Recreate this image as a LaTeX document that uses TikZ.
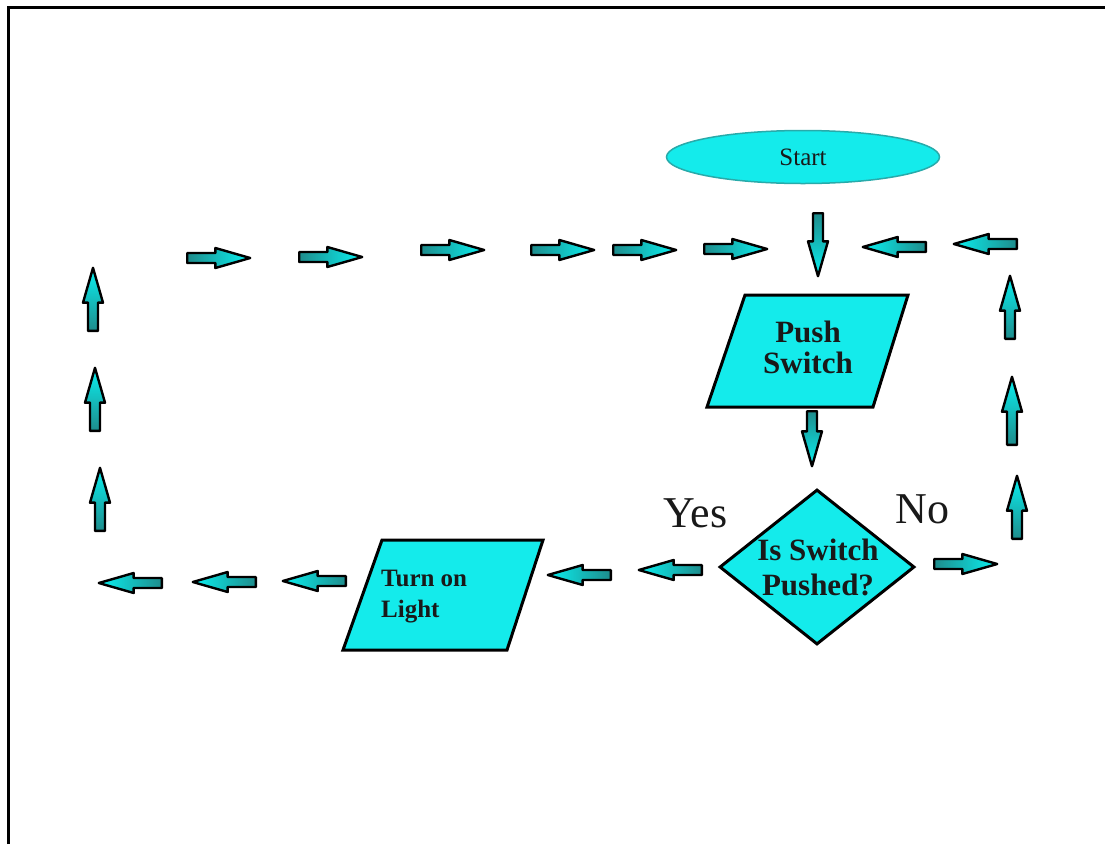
\documentclass[tikz,border=0pt]{standalone}
\usepackage{fontspec}
\setmainfont{Liberation Serif}
\usetikzlibrary{shapes.geometric,shapes.arrows}

\definecolor{boxfill}{RGB}{20,235,235}
\definecolor{arrowdark}{RGB}{30,140,140}
\definecolor{arrowlight}{RGB}{10,240,240}
\definecolor{ovaledge}{RGB}{40,170,170}
\definecolor{ink}{RGB}{25,25,25}

\begin{document}
\begin{tikzpicture}[x=1pt,y=-1pt,
  blockarrow/.style={single arrow, draw=black, line width=2.4pt, inner sep=3.8pt,
    minimum height=63pt, single arrow head extend=5pt, single arrow tip angle=32,
    line join=round, anchor=tail},
  goright/.style={blockarrow, left color=arrowdark, right color=arrowlight},
  goleft/.style={blockarrow, rotate=180, left color=arrowlight, right color=arrowdark},
  goup/.style={blockarrow, rotate=90, top color=arrowlight, bottom color=arrowdark},
  godown/.style={blockarrow, rotate=270, top color=arrowdark, bottom color=arrowlight},
  iobox/.style={draw=black, line width=3pt, fill=boxfill, line join=miter},
  bigword/.style={font=\fontsize{44}{44}\selectfont, text=ink, inner sep=0pt, anchor=base}
]
\useasboundingbox (0,0) rectangle (1105,844);

% frame
\draw[line width=3pt] (8,844) -- (8,7) -- (1105,7);

% flowchart shapes
\node[ellipse, draw=ovaledge, line width=1.5pt, fill=boxfill, minimum width=273pt,
      minimum height=53pt, inner sep=0pt, text=ink,
      font=\fontsize{25}{25}\selectfont] (start) at (803,157) {Start};

\draw[iobox] (745,295) -- (908,295) -- (873,407) -- (707,407) -- cycle;
\node[font=\bfseries\fontsize{31}{31}\selectfont, text=ink, align=center, inner sep=0pt]
  (push) at (808,347) {Push\\Switch};

\node[diamond, draw=black, line width=3pt, fill=boxfill, minimum width=195pt,
      minimum height=155pt, inner sep=0pt] (dec) at (817,567) {};
\node[font=\bfseries\fontsize{31}{35}\selectfont, text=ink, align=center, inner sep=0pt]
  (dectxt) at (818,567) {Is Switch\\Pushed?};

\draw[iobox] (382,540) -- (543,540) -- (507,650) -- (343,650) -- cycle;
\node[font=\bfseries\fontsize{25}{31}\selectfont, text=ink, align=left, inner sep=0pt,
      anchor=west] (light) at (381,597) {Turn on\\Light};

\node[bigword] (yes) at (695.5,527) {Yes};
\node[bigword] (no) at (922.5,523) {No};

% top run of arrows (each placed by its tail)
\node[goright] (t1) at (186,258) {};
\node[goright] (t2) at (298,257) {};
\node[goright] (t3) at (420,250) {};
\node[goright] (t4) at (530,250) {};
\node[goright] (t5) at (612,250) {};
\node[goright] (t6) at (703,249) {};
\node[godown] (in1) at (818,212) {};
\node[goleft] (t7) at (927,247) {};
\node[goleft] (t8) at (1018,244) {};

% "No" branch back up the right side
\node[goright] (no1) at (933,564) {};
\node[goup] (r1) at (1017,540) {};
\node[goup, minimum height=68pt] (r2) at (1012,446) {};
\node[goup] (r3) at (1010,340) {};

% into the decision
\node[godown, minimum height=55pt] (in2) at (812,410) {};

% "Yes" branch along the bottom and up the left side
\node[goleft] (y1) at (703,570) {};
\node[goleft] (y2) at (612,575) {};
\node[goleft] (b1) at (347,581) {};
\node[goleft] (b2) at (257,582) {};
\node[goleft] (b3) at (163,583) {};
\node[goup] (l1) at (100,532) {};
\node[goup] (l2) at (95,432) {};
\node[goup] (l3) at (93,332) {};
\end{tikzpicture}
\end{document}
